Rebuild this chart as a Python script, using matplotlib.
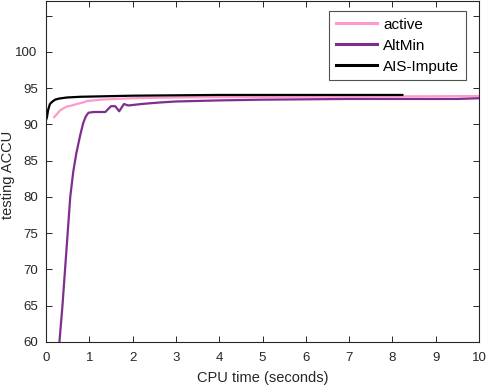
import matplotlib
matplotlib.use("Agg")
import matplotlib.pyplot as plt

plt.rcParams['font.family'] = ['Liberation Sans', 'DejaVu Sans']

# Data
ais_x = [0.0, 0.02, 0.05, 0.09, 0.14, 0.21, 0.3, 0.48, 0.8, 1.2, 2.0, 3.0, 4.0, 6.0, 8.23]
ais_y = [90.6, 90.9, 92.0, 92.8, 93.1, 93.4, 93.55, 93.7, 93.8, 93.85, 93.95, 94.0, 94.05, 94.05, 94.05]

active_x = [0.19, 0.25, 0.32, 0.4, 0.48, 0.6, 0.71, 0.85, 0.94, 1.1, 1.25, 1.6, 2.0, 3.0, 4.0, 6.0, 8.0, 10.0]
active_y = [91.0, 91.4, 91.9, 92.2, 92.45, 92.6, 92.8, 93.0, 93.2, 93.3, 93.4, 93.5, 93.6, 93.7, 93.75, 93.8, 93.85, 93.9]

altmin_x = [0.31, 0.38, 0.44, 0.5, 0.56, 0.63, 0.7, 0.79, 0.86, 0.92, 0.98, 1.1, 1.37, 1.5, 1.6, 1.69, 1.8, 1.9,
            2.2, 2.6, 3.0, 4.0, 5.0, 6.0, 7.0, 8.0, 9.5, 10.0]
altmin_y = [60, 65, 70, 75, 80, 83.5, 86, 88.5, 90.2, 91.1, 91.6, 91.7, 91.7, 92.5, 92.5, 91.8, 92.8, 92.6,
            92.8, 93.0, 93.15, 93.3, 93.4, 93.45, 93.5, 93.5, 93.5, 93.6]

xticks = list(range(0, 11))
yticks = [60, 65, 70, 75, 80, 85, 90, 95, 100, 105]
ytick_labels = ['60', '65', '70', '75', '80', '85', '90', '95', '100', '']

fig = plt.figure(figsize=(4.87, 3.87), dpi=100)
ax = fig.add_axes([46/487, 45/387, 433/487, 341/387])

ax.plot(active_x, active_y, color='#FF99CC', lw=1.6, label='active')
ax.plot(altmin_x, altmin_y, color='#7E2F8E', lw=1.6, label='AltMin')
ax.plot(ais_x, ais_y, color='black', lw=1.6, label='AIS-Impute')

ax.set_xlim(0, 10)
ax.set_ylim(60, 107)
ax.set_xticks(xticks)
ax.set_yticks(yticks)
ax.set_yticklabels(ytick_labels)
ax.tick_params(direction='in', top=True, right=True, length=4, width=0.7,
               labelsize=9.5, labelcolor='#262626', colors='#262626')
ax.tick_params(axis='x', pad=7.5)
ax.tick_params(axis='y', pad=6)
for s in ax.spines.values():
    s.set_linewidth(0.8)
    s.set_color('#262626')

ax.set_xlabel('CPU time (seconds)', fontsize=10.5, color='#262626', labelpad=5)
ax.set_ylabel('testing ACCU', fontsize=10.5, color='#262626')
ax.yaxis.set_label_coords(-(46 - 8) / 433, 0.49)
ax.yaxis.label.set_va('center')
ax.yaxis.label.set_ha('center')

leg = ax.legend(loc='upper right', fontsize=11, frameon=True, fancybox=False,
                handlelength=2.7, borderpad=0.45, labelspacing=0.45,
                bbox_to_anchor=(0.970, 0.971), borderaxespad=0, handletextpad=0.4)
leg.get_frame().set_edgecolor('#262626')
leg.get_frame().set_linewidth(0.8)
for l in leg.get_lines():
    l.set_linewidth(2.2)

fig.savefig('out.png', dpi=100)
